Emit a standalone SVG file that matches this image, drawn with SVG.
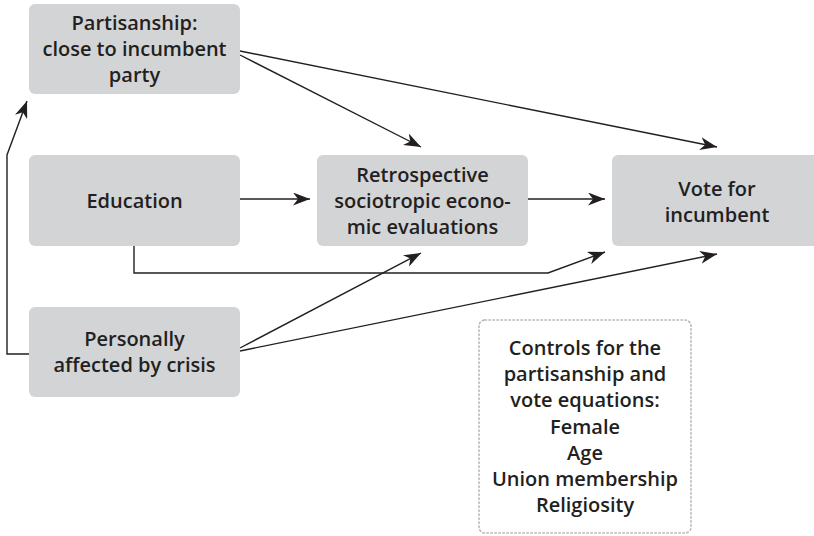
<svg xmlns="http://www.w3.org/2000/svg" width="814" height="536" viewBox="0 0 814 536">
<style>
.box{fill:#d3d4d6;}
.ctl{fill:none;stroke:#b8b8b8;stroke-width:1.6;stroke-dasharray:1.5 2.5;stroke-linecap:round;}
.t{font-family:"Open Sans","Noto Sans",sans-serif;font-weight:600;font-size:20px;fill:#231f20;text-anchor:middle;}
.c{fill:none;stroke:#231f20;stroke-width:1.4;}
</style>
<defs>
<marker id="ah" markerUnits="userSpaceOnUse" markerWidth="19" markerHeight="13" refX="17" refY="6.5" orient="auto">
<path d="M0,0 L17,6.5 L0,13 L5,6.5 z" fill="#231f20"/>
</marker>
</defs>
<rect x="0" y="0" width="814" height="536" fill="#ffffff"/>
<g id="connectors">
<line class="c" x1="240" y1="51" x2="717" y2="147" marker-end="url(#ah)"/>
<line class="c" x1="240" y1="55" x2="421" y2="147" marker-end="url(#ah)"/>
<line class="c" x1="240" y1="199" x2="310" y2="199" marker-end="url(#ah)"/>
<line class="c" x1="528" y1="199" x2="605" y2="199" marker-end="url(#ah)"/>
<polyline class="c" points="134,246 134,273 548,273 605,252" marker-end="url(#ah)"/>
<line class="c" x1="240" y1="348" x2="421" y2="253" marker-end="url(#ah)"/>
<line class="c" x1="240" y1="351" x2="717" y2="254" marker-end="url(#ah)"/>
<polyline class="c" points="29,354 7,354 7,155 27,101" marker-end="url(#ah)"/>
</g>
<g id="partisanship">
<rect class="box" x="29" y="4" width="211" height="90" rx="6"/>
<text class="t" x="134.5" y="30">Partisanship:</text>
<text class="t" x="134.5" y="56">close to incumbent</text>
<text class="t" x="134.5" y="82">party</text>
</g>
<g id="education">
<rect class="box" x="29" y="155" width="211" height="91" rx="6"/>
<text class="t" x="134.5" y="208">Education</text>
</g>
<g id="retrospective">
<rect class="box" x="317" y="155" width="211" height="91" rx="6"/>
<text class="t" x="422.5" y="182">Retrospective</text>
<text class="t" x="422.5" y="208">sociotropic econo-</text>
<text class="t" x="422.5" y="234">mic evaluations</text>
</g>
<g id="vote">
<rect class="box" x="612" y="155" width="211" height="91" rx="6"/>
<text class="t" x="717" y="196">Vote for</text>
<text class="t" x="717" y="222">incumbent</text>
</g>
<g id="personally">
<rect class="box" x="29" y="307" width="211" height="90" rx="6"/>
<text class="t" x="134.5" y="346">Personally</text>
<text class="t" x="134.5" y="372">affected by crisis</text>
</g>
<g id="controls">
<rect class="ctl" x="479" y="320" width="212" height="213" rx="6"/>
<text class="t" x="585" y="355">Controls for the</text>
<text class="t" x="585" y="381">partisanship and</text>
<text class="t" x="585" y="407">vote equations:</text>
<text class="t" x="585" y="434">Female</text>
<text class="t" x="585" y="460">Age</text>
<text class="t" x="585" y="486">Union membership</text>
<text class="t" x="585" y="512">Religiosity</text>
</g>
</svg>
